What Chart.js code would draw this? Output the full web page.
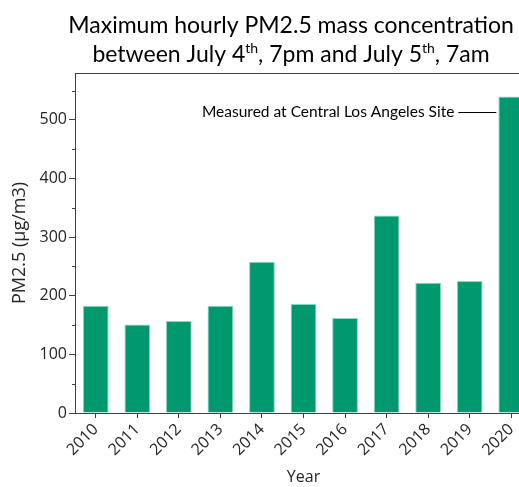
<!DOCTYPE html>
<html><head><meta charset="utf-8">
<script src="https://cdn.jsdelivr.net/npm/chart.js@4/dist/chart.umd.min.js"></script>
<style>
html,body{margin:0;padding:0;overflow:hidden;background:#fff;width:519px;height:487px}
#wrap{position:absolute;left:0;top:0;width:560px;height:487px}
</style>
</head><body><div id="wrap"><canvas id="c" width="560" height="487"></canvas></div>
<script>
const years = ['2010','2011','2012','2013','2014','2015','2016','2017','2018','2019','2020'];
const pm25Max = [183, 151, 157, 183, 258, 186, 162, 337, 222, 225, 540];
const yMajorTicks = [0, 100, 200, 300, 400, 500];
const yMinorTicks = [50, 150, 250, 350, 450, 550];
const yAxisMax = 580;
const titleLine1 = [['Maximum hourly PM2.5 mass concentration', false]];
const titleLine2 = [['between July 4', false], ['th', true], [', 7pm and July 5', false], ['th', true], [', 7am', false]];
const annotationText = 'Measured at Central Los Angeles Site';
const annotationValue = 513;

const AXIS = '#404040', TEXT = '#262626';
const FONT = "'Open Sans', sans-serif";
const TFONT = "Lato, 'Open Sans', sans-serif";

const extras = {
  id: 'extras',
  afterDraw(chart) {
    const ctx = chart.ctx, ca = chart.chartArea, y = chart.scales.y;
    ctx.save();
    ctx.strokeStyle = AXIS; ctx.lineWidth = 1;
    ctx.beginPath(); ctx.moveTo(ca.left, Math.round(ca.top) + 0.5); ctx.lineTo(ca.right, Math.round(ca.top) + 0.5); ctx.stroke();
    yMinorTicks.forEach(v => {
      const py = Math.round(y.getPixelForValue(v)) + 0.5;
      ctx.beginPath(); ctx.moveTo(ca.left - 3, py); ctx.lineTo(ca.left, py); ctx.stroke();
    });
    const cx = 291;
    const drawLine = (parts, baseline) => {
      let w = 0;
      parts.forEach(([t, sup]) => { ctx.font = (sup ? '14px ' : '23px ') + TFONT; w += ctx.measureText(t).width; });
      let x = cx - w / 2;
      ctx.fillStyle = '#000'; ctx.textBaseline = 'alphabetic'; ctx.textAlign = 'left';
      parts.forEach(([t, sup]) => {
        ctx.font = (sup ? '14px ' : '23px ') + TFONT;
        ctx.fillText(t, x, sup ? baseline - 9 : baseline);
        x += ctx.measureText(t).width;
      });
    };
    drawLine(titleLine1, 33);
    drawLine(titleLine2, 62);
    const bar = chart.getDatasetMeta(0).data[years.length - 1];
    const bx = bar.x - bar.width / 2 - 2;
    const ay = Math.round(y.getPixelForValue(annotationValue)) + 0.5;
    ctx.strokeStyle = '#000';
    ctx.beginPath(); ctx.moveTo(bx - 38, ay); ctx.lineTo(bx, ay); ctx.stroke();
    ctx.font = '15.5px ' + TFONT; ctx.fillStyle = '#000'; ctx.textAlign = 'right'; ctx.textBaseline = 'middle';
    ctx.fillText(annotationText, bx - 42, ay - 1);
    ctx.restore();
  }
};

new Chart(document.getElementById('c'), {
  type: 'bar',
  data: { labels: years, datasets: [{ data: pm25Max, backgroundColor: '#00996F', borderColor: '#8fd6be', borderWidth: 1,
    categoryPercentage: 1, barPercentage: 0.62 }] },
  options: {
    responsive: false, animation: false, devicePixelRatio: 1,
    layout: { padding: { top: 73, right: 28, left: 0, bottom: 0 } },
    plugins: { legend: { display: false }, tooltip: { enabled: false }, title: { display: false } },
    scales: {
      x: {
        offset: true,
        grid: { offset: false, drawOnChartArea: false, tickLength: 5, color: AXIS },
        border: { color: AXIS },
        ticks: { minRotation: 45, maxRotation: 45, font: { family: FONT, size: 16 }, color: TEXT, padding: 2 },
        title: { display: true, text: 'Year', font: { family: FONT, size: 16 }, color: TEXT, padding: { top: 0, bottom: 0 } },
        afterFit: s => { s.height = 74; s.paddingLeft = 0; s.paddingRight = 0; }
      },
      y: {
        min: 0, max: yAxisMax,
        afterBuildTicks: s => { s.ticks = yMajorTicks.map(v => ({ value: v })); },
        grid: { drawOnChartArea: false, tickLength: 6, color: AXIS },
        border: { color: AXIS },
        ticks: { font: { family: FONT, size: 16 }, color: TEXT, padding: 2 },
        title: { display: true, text: 'PM2.5 (µg/m3)', font: { family: FONT, size: 18 }, color: TEXT, padding: { top: 9, bottom: 0 } },
        afterFit: s => { s.width = 75; s.paddingTop = 0; s.paddingBottom = 0; }
      }
    }
  },
  plugins: [extras]
});
</script></body></html>
